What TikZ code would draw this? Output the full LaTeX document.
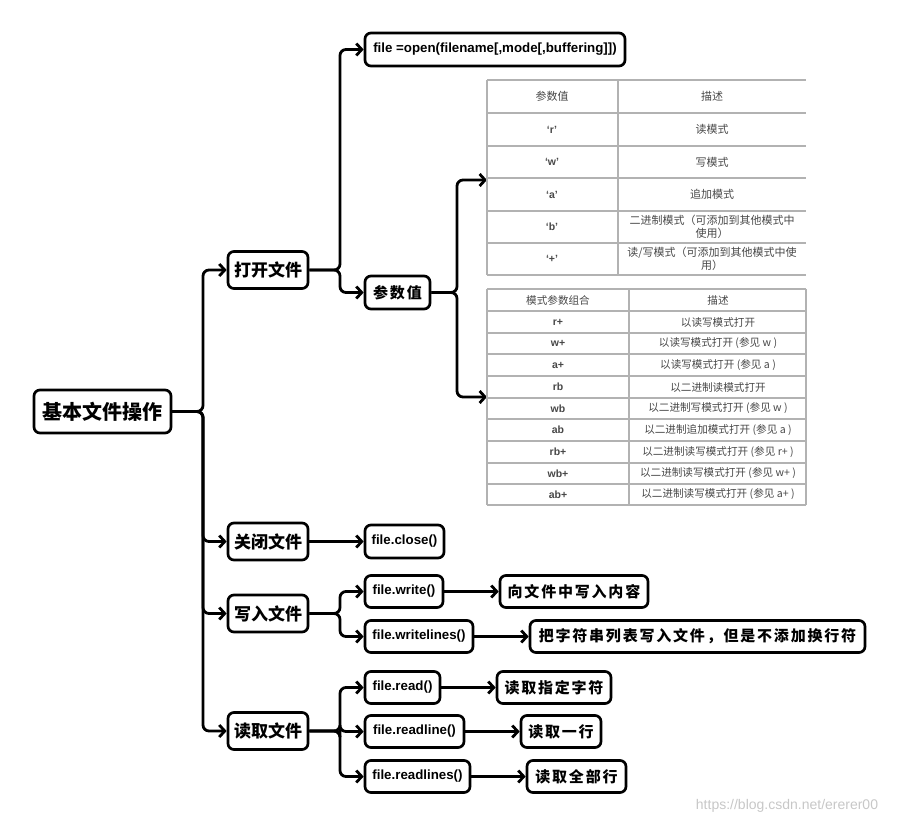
\documentclass[tikz,border=0pt]{standalone}
\usepackage{fontspec}
\setmainfont{Liberation Sans}
\newfontfamily\cjk{Noto Sans CJK SC}
\usetikzlibrary{arrows.meta}
\tikzset{
 box/.style={draw, line width=2.7pt, rounded corners=6pt, inner sep=0pt, fill=white, align=center, minimum height=33},
 conn/.style={line width=2.8pt, rounded corners=6pt},
 arr/.style={conn, -{Straight Barb[length=5.5pt,width=12pt]}},
 zh/.style={font=\cjk\bfseries\fontsize{17}{20}\selectfont},
 zhs/.style={font=\cjk\bfseries\addfontfeature{LetterSpace=12}\fontsize{15}{18}\selectfont},
 en/.style={font=\bfseries\fontsize{13.3}{15}\selectfont},
 tl/.style={draw=black!30, line width=1.2pt},
 tt/.style={font=\cjk\fontsize{11}{13}\selectfont, text=black!72, align=center},
 te/.style={font=\bfseries\fontsize{10.5}{12}\selectfont, text=black!72},
 tt2/.style={font=\cjk\fontsize{10.6}{12.5}\selectfont, text=black!72, align=center},
}
\begin{document}
\begin{tikzpicture}[x=1pt,y=-1pt]
\useasboundingbox (0,0) rectangle (899,825);
% level 0 and 1
\node[box, font=\cjk\bfseries\fontsize{20}{23}\selectfont, minimum width=137, minimum height=43] (root) at (102.5,411.5) {基本文件操作};
\node[box, zh, minimum width=80, minimum height=37] (k1) at (268,270) {打开文件};
\node[box, zh, minimum width=80, minimum height=37] (k2) at (268,541.5) {关闭文件};
\node[box, zh, minimum width=80, minimum height=37] (k3) at (268,613.5) {写入文件};
\node[box, zh, minimum width=80, minimum height=37] (k4) at (268,731) {读取文件};
\coordinate (t0) at (203,411.5);
\foreach \k in {k1,k2,k3,k4} \draw[arr] (root.east) -- (t0) |- (\k.west);
% level 2
\node[box, en, minimum width=260] (open) at (495,49.5) {file =open(filename[,mode[,buffering]])};
\node[box, zhs, minimum width=65] (param) at (397.5,292.5) {参数值};
\node[box, en, minimum width=79] (close) at (404.5,541.5) {file.close()};
\node[box, en, minimum width=78, minimum height=32] (write) at (404,591.5) {file.write()};
\node[box, en, minimum width=108, minimum height=32] (wlines) at (419,636.5) {file.writelines()};
\node[box, en, minimum width=75, minimum height=32] (read) at (402.5,687.5) {file.read()};
\node[box, en, minimum width=99, minimum height=32] (rline) at (414.5,731.5) {file.readline()};
\node[box, en, minimum width=105, minimum height=32] (rlines) at (417.5,776.5) {file.readlines()};
\coordinate (t1) at (340,270);
\draw[arr] (k1.east) -- (t1) |- (open.west);
\draw[arr] (k1.east) -- (t1) |- (param.west);
\draw[arr] (k2.east) -- (close.west);
\coordinate (t3) at (340,613.5);
\draw[arr] (k3.east) -- (t3) |- (write.west);
\draw[arr] (k3.east) -- (t3) |- (wlines.west);
\coordinate (t4) at (340,731);
\draw[arr] (k4.east) -- (t4) |- (read.west);
\draw[arr] (k4.east) -- (t4) |- (rline.west);
\draw[arr] (k4.east) -- (t4) |- (rlines.west);
% level 3
\node[box, zhs, minimum width=148, minimum height=32] (w1) at (574,591.5) {向文件中写入内容};
\node[box, zhs, minimum width=335, minimum height=32] (w2) at (697.5,636.5) {把字符串列表写入文件，但是不添加换行符};
\node[box, zhs, minimum width=114, minimum height=32] (r1) at (554,687.5) {读取指定字符};
\node[box, zhs, minimum width=80, minimum height=32] (r2) at (561,731.5) {读取一行};
\node[box, zhs, minimum width=99, minimum height=32] (r3) at (576.5,776.5) {读取全部行};
\draw[arr] (write.east) -- (w1.west);
\draw[arr] (wlines.east) -- (w2.west);
\draw[arr] (read.east) -- (r1.west);
\draw[arr] (rline.east) -- (r2.west);
\draw[arr] (rlines.east) -- (r3.west);
% tables
\coordinate (tab1) at (487,180);
\coordinate (tab2) at (487,397);
\coordinate (t2) at (457,292.5);
\draw[arr] (param.east) -- (t2) |- (tab1);
\draw[arr] (param.east) -- (t2) |- (tab2);
% table 1
\foreach \y in {80,113,146,178,211,243,275} \draw[tl] (487,\y) -- (806,\y);
\draw[tl] (487,80) -- (487,275);
\draw[tl] (618,80) -- (618,275);
\node[tt] (h1a) at (552,96.5) {参数值};
\node[tt] (h1b) at (712,96.5) {描述};
\foreach \i/\y/\a/\b in {1/129.5/‘r’/读模式, 2/162/‘w’/写模式, 3/194.5/‘a’/追加模式,
  4/227/‘b’/{二进制模式（可添加到其他模式中\\使用）}, 5/259/‘+’/{读/写模式（可添加到其他模式中使\\用）}} {
  \node[te] (p\i) at (552,\y) {\a};
  \node[tt] (d\i) at (712,\y) {\b};
}
% table 2
\foreach \y in {289,311,333,354,376,398,419,441,463,484,505} \draw[tl] (487,\y) -- (806,\y);
\draw[tl] (487,289) -- (487,505);
\draw[tl] (629,289) -- (629,505);
\draw[tl] (806,289) -- (806,505);
\node[tt2] (h2a) at (558,300) {模式参数组合};
\node[tt2] (h2b) at (718,300) {描述};
\foreach \i/\y/\a/\b in {1/322/r+/以读写模式打开, 2/343.5/w+/以读写模式打开 (参见 w ), 3/365/a+/以读写模式打开 (参见 a ),
  4/387/rb/以二进制读模式打开, 5/408.5/wb/以二进制写模式打开 (参见 w ), 6/430/ab/以二进制追加模式打开 (参见 a ),
  7/452/rb+/以二进制读写模式打开 (参见 r+ ), 8/473.5/wb+/以二进制读写模式打开 (参见 w+ ), 9/494.5/ab+/以二进制读写模式打开 (参见 a+ )} {
  \node[te] (q\i) at (558,\y) {\a};
  \node[tt2] (e\i) at (718,\y) {\b};
}
\node[font=\fontsize{14}{16}\selectfont, text=black!22] (wm) at (787,806) {https://blog.csdn.net/ererer00};
\end{tikzpicture}
\end{document}
